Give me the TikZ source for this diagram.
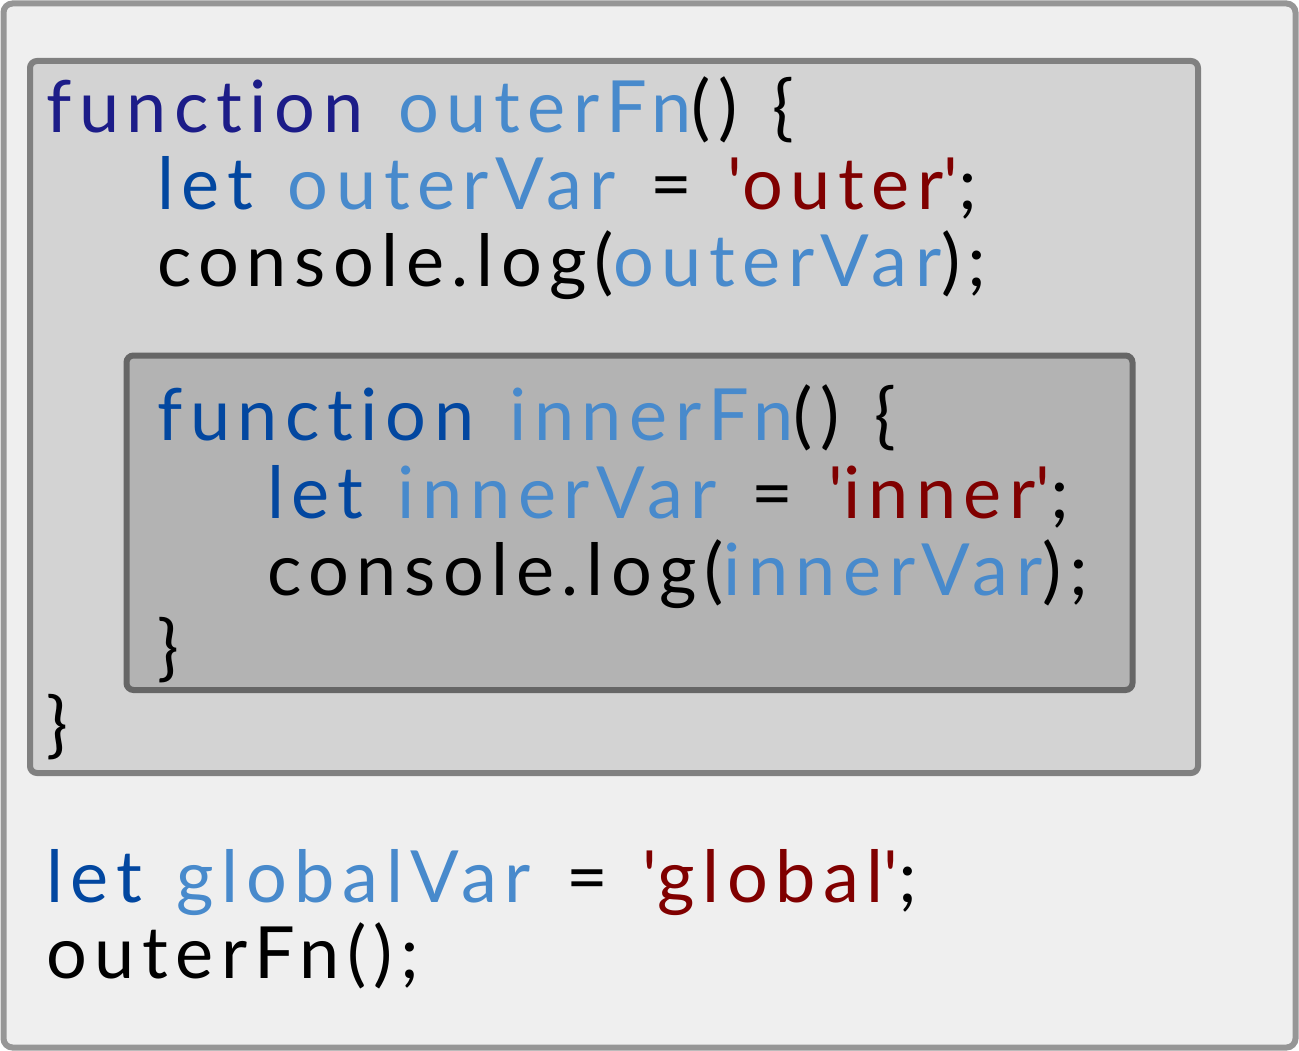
\documentclass[tikz,border=0pt]{standalone}
\usepackage{fontspec}
\newfontfamily\codefont{Lato}[LetterSpace=10.5, WordSpace=1.35, Ligatures={NoCommon,NoRequired,NoContextual}]
\definecolor{kwouter}{RGB}{28,28,136}
\definecolor{kwinner}{RGB}{2,71,160}
\definecolor{ident}{RGB}{72,138,204}
\definecolor{strval}{RGB}{128,0,0}
\definecolor{globalbg}{RGB}{239,239,239}
\definecolor{globalln}{RGB}{150,150,150}
\definecolor{outerbg}{RGB}{211,211,211}
\definecolor{outerln}{RGB}{128,128,128}
\definecolor{innerbg}{RGB}{179,179,179}
\definecolor{innerln}{RGB}{102,102,102}
\newcommand{\kwo}[1]{\textcolor{kwouter}{#1}}
\newcommand{\kwi}[1]{\textcolor{kwinner}{#1}}
\newcommand{\idn}[1]{\textcolor{ident}{#1}}
\newcommand{\strv}[1]{\textcolor{strval}{\textquotesingle#1\textquotesingle}}
\tikzset{codeline/.style={anchor=base west, inner sep=0pt, font=\codefont\fontsize{72}{77}\selectfont}}
\begin{document}
\begin{tikzpicture}[x=1pt,y=-1pt]
      \useasboundingbox (0,0) rectangle (1299,1051);
      \draw[line width=6pt, fill=globalbg, draw=globalln, rounded corners=9pt] (3.5,3.5) rectangle (1295.5,1047.5);
      \draw[line width=6pt, fill=outerbg, draw=outerln, rounded corners=7pt] (30,61) rectangle (1198,773);
      \draw[line width=6pt, fill=innerbg, draw=innerln, rounded corners=7pt] (126.5,355.5) rectangle (1132.5,690);
      \node[codeline] (outerhead) at (46,133) {\kwo{function} \idn{outerFn}() \{};
      \node[codeline] (outerlet) at (157,210) {\kwi{let} \idn{outerVar} = \strv{outer};};
      \node[codeline] (outerlog) at (157,287) {console.log(\idn{outerVar});};
      \node[codeline] (innerhead) at (157,440) {\kwi{function} \idn{innerFn}() \{};
      \node[codeline] (innerlet) at (267,518) {\kwi{let} \idn{innerVar} = \strv{inner};};
      \node[codeline] (innerlog) at (267,595) {console.log(\idn{innerVar});};
      \node[codeline] (innerend) at (157,672) {\}};
      \node[codeline] (outerend) at (46,749) {\}};
      \node[codeline] (globallet) at (46,902) {\kwi{let} \idn{globalVar} = \strv{global};};
      \node[codeline] (globalcall) at (46,978) {outerFn();};
    \end{tikzpicture}
\end{document}
